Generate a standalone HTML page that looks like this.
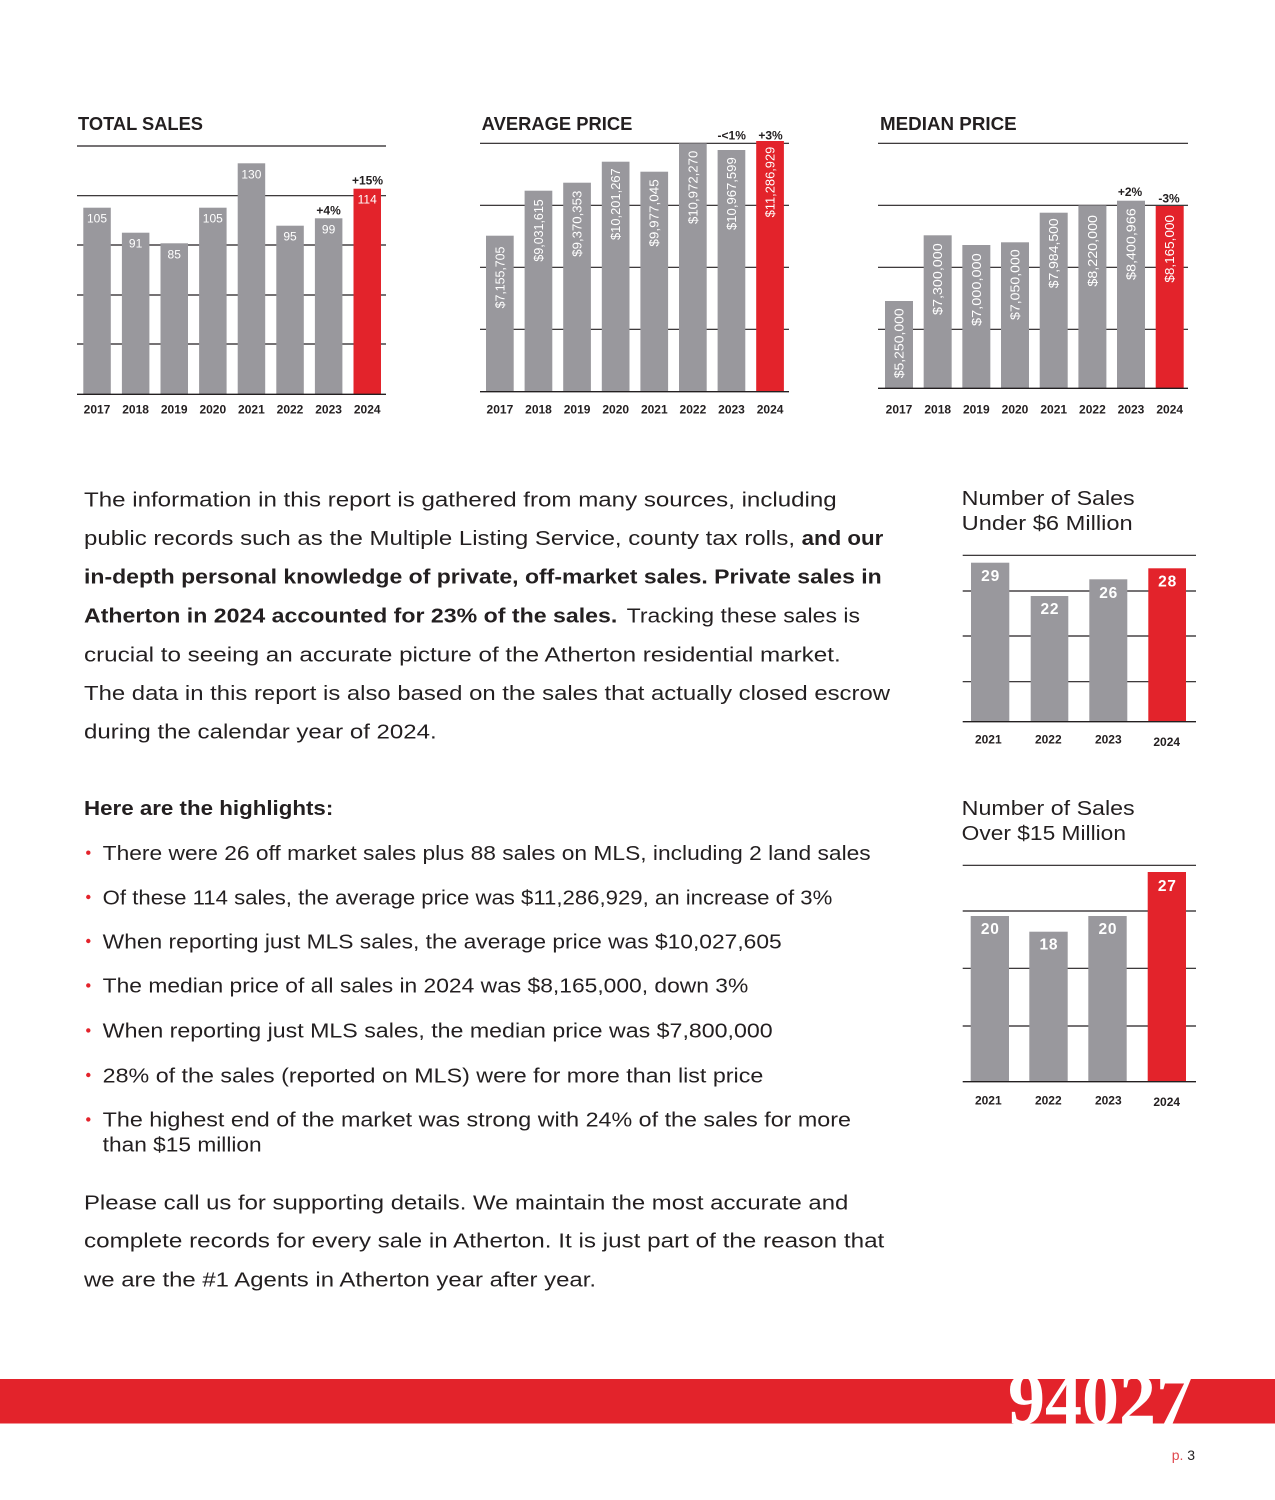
<!DOCTYPE html>
<html><head><meta charset="utf-8"><style>
html,body{margin:0;padding:0;background:#fff;}
svg{display:block;}
text{font-family:"Liberation Sans",sans-serif;}
text.serif{font-family:"Liberation Serif","DejaVu Serif",serif;}
</style></head><body>
<svg width="1275" height="1500" viewBox="0 0 1275 1500" xmlns="http://www.w3.org/2000/svg">
<rect width="1275" height="1500" fill="#fff"/>
<defs><clipPath id="band"><rect x="0" y="1379" width="1275" height="44.5"/></clipPath></defs>

<!-- ===== TOTAL SALES ===== -->
<text x="78" y="130" font-size="18" font-weight="bold" fill="#231f20" textLength="125" lengthAdjust="spacingAndGlyphs">TOTAL SALES</text>
<g stroke="#231f20" stroke-width="1.2">
<line x1="77" y1="146" x2="386" y2="146"/>
<line x1="77" y1="195.7" x2="386" y2="195.7"/>
<line x1="77" y1="245" x2="386" y2="245"/>
<line x1="77" y1="295" x2="386" y2="295"/>
<line x1="77" y1="344" x2="386" y2="344"/>
</g>
<g fill="#99989d">
<rect x="83.3" y="207.7" width="27.5" height="186.6"/>
<rect x="121.9" y="232.7" width="27.5" height="161.6"/>
<rect x="160.5" y="243.3" width="27.5" height="151"/>
<rect x="199.1" y="207.7" width="27.5" height="186.6"/>
<rect x="237.7" y="163.3" width="27.5" height="231"/>
<rect x="276.3" y="225.7" width="27.5" height="168.6"/>
<rect x="314.9" y="218.3" width="27.5" height="176"/>
</g>
<rect x="353.5" y="188.7" width="27.5" height="205.6" fill="#e3232b"/>
<line x1="77" y1="394.3" x2="386" y2="394.3" stroke="#231f20" stroke-width="1.3"/>
<g fill="#fff" font-size="12" text-anchor="middle">
<text x="97" y="222.7">105</text>
<text x="135.6" y="247.7">91</text>
<text x="174.2" y="258.3">85</text>
<text x="212.8" y="222.7">105</text>
<text x="251.4" y="178.3">130</text>
<text x="290" y="240.7">95</text>
<text x="328.6" y="233.3">99</text>
<text x="367.2" y="203.7">114</text>
</g>
<g fill="#231f20" font-size="12" font-weight="bold" text-anchor="middle">
<text x="367.5" y="184.5">+15%</text>
<text x="328.6" y="214.5">+4%</text>
</g>
<g fill="#231f20" font-size="12" font-weight="bold" text-anchor="middle">
<text x="97" y="413.5">2017</text>
<text x="135.6" y="413.5">2018</text>
<text x="174.2" y="413.5">2019</text>
<text x="212.8" y="413.5">2020</text>
<text x="251.4" y="413.5">2021</text>
<text x="290" y="413.5">2022</text>
<text x="328.6" y="413.5">2023</text>
<text x="367.2" y="413.5">2024</text>
</g>

<!-- ===== AVERAGE PRICE ===== -->
<text x="481.7" y="130" font-size="18" font-weight="bold" fill="#231f20" textLength="150.7" lengthAdjust="spacingAndGlyphs">AVERAGE PRICE</text>
<g stroke="#231f20" stroke-width="1.2">
<line x1="480" y1="143.3" x2="789" y2="143.3"/>
<line x1="480" y1="205.3" x2="789" y2="205.3"/>
<line x1="480" y1="267.3" x2="789" y2="267.3"/>
<line x1="480" y1="329.3" x2="789" y2="329.3"/>
</g>
<g fill="#99989d">
<rect x="486" y="235.7" width="27.7" height="156"/>
<rect x="524.6" y="190.7" width="27.7" height="201"/>
<rect x="563.2" y="182.7" width="27.7" height="209"/>
<rect x="601.8" y="161.7" width="27.7" height="230"/>
<rect x="640.4" y="171.7" width="27.7" height="220"/>
<rect x="679" y="143.3" width="27.7" height="248.4"/>
<rect x="717.6" y="150" width="27.7" height="241.7"/>
</g>
<rect x="756.2" y="141" width="27.7" height="250.7" fill="#e3232b"/>
<line x1="480" y1="391.7" x2="789" y2="391.7" stroke="#231f20" stroke-width="1.3"/>
<g fill="#fff" font-size="12.5" text-anchor="end">
<text transform="translate(504.3,246.7) rotate(-90)" textLength="61.7" lengthAdjust="spacingAndGlyphs">$7,155,705</text>
<text transform="translate(542.9,199.3) rotate(-90)" textLength="62.3" lengthAdjust="spacingAndGlyphs">$9,031,615</text>
<text transform="translate(581.5,190.7) rotate(-90)" textLength="66" lengthAdjust="spacingAndGlyphs">$9,370,353</text>
<text transform="translate(620.1,168.3) rotate(-90)" textLength="71.7" lengthAdjust="spacingAndGlyphs">$10,201,267</text>
<text transform="translate(658.7,179.3) rotate(-90)" textLength="67.3" lengthAdjust="spacingAndGlyphs">$9,977,045</text>
<text transform="translate(697.3,150.7) rotate(-90)" textLength="73.3" lengthAdjust="spacingAndGlyphs">$10,972,270</text>
<text transform="translate(735.9,157.3) rotate(-90)" textLength="72.7" lengthAdjust="spacingAndGlyphs">$10,967,599</text>
<text transform="translate(774.5,146.7) rotate(-90)" textLength="70.7" lengthAdjust="spacingAndGlyphs">$11,286,929</text>
</g>
<g fill="#231f20" font-size="12" font-weight="bold" text-anchor="middle">
<text x="731.7" y="139.5">-&lt;1%</text>
<text x="770.5" y="139.5">+3%</text>
</g>
<g fill="#231f20" font-size="12" font-weight="bold" text-anchor="middle">
<text x="499.9" y="413.5">2017</text>
<text x="538.5" y="413.5">2018</text>
<text x="577.1" y="413.5">2019</text>
<text x="615.7" y="413.5">2020</text>
<text x="654.3" y="413.5">2021</text>
<text x="692.9" y="413.5">2022</text>
<text x="731.5" y="413.5">2023</text>
<text x="770.1" y="413.5">2024</text>
</g>

<!-- ===== MEDIAN PRICE ===== -->
<text x="880" y="130" font-size="18" font-weight="bold" fill="#231f20" textLength="136.7" lengthAdjust="spacingAndGlyphs">MEDIAN PRICE</text>
<g stroke="#231f20" stroke-width="1.2">
<line x1="878" y1="143.3" x2="1188" y2="143.3"/>
<line x1="878" y1="205.3" x2="1188" y2="205.3"/>
<line x1="878" y1="267.3" x2="1188" y2="267.3"/>
<line x1="878" y1="329.3" x2="1188" y2="329.3"/>
</g>
<g fill="#99989d">
<rect x="885" y="301" width="28" height="87.3"/>
<rect x="923.67" y="235.3" width="28" height="153"/>
<rect x="962.34" y="245" width="28" height="143.3"/>
<rect x="1001" y="242.3" width="28" height="146"/>
<rect x="1039.7" y="212.7" width="28" height="175.6"/>
<rect x="1078.4" y="205.3" width="28" height="183"/>
<rect x="1117" y="200.7" width="28" height="187.6"/>
</g>
<rect x="1155.7" y="206" width="28" height="182.3" fill="#e3232b"/>
<line x1="878" y1="388.3" x2="1188" y2="388.3" stroke="#231f20" stroke-width="1.3"/>
<g fill="#fff" font-size="12.5" text-anchor="end">
<text transform="translate(903.5,308.3) rotate(-90)" textLength="70" lengthAdjust="spacingAndGlyphs">$5,250,000</text>
<text transform="translate(942.2,243.3) rotate(-90)" textLength="71.7" lengthAdjust="spacingAndGlyphs">$7,300,000</text>
<text transform="translate(980.8,253.3) rotate(-90)" textLength="72.7" lengthAdjust="spacingAndGlyphs">$7,000,000</text>
<text transform="translate(1019.5,249.3) rotate(-90)" textLength="70.7" lengthAdjust="spacingAndGlyphs">$7,050,000</text>
<text transform="translate(1058.2,218.3) rotate(-90)" textLength="70" lengthAdjust="spacingAndGlyphs">$7,984,500</text>
<text transform="translate(1096.9,215) rotate(-90)" textLength="71.7" lengthAdjust="spacingAndGlyphs">$8,220,000</text>
<text transform="translate(1135.5,208.3) rotate(-90)" textLength="71.7" lengthAdjust="spacingAndGlyphs">$8,400,966</text>
<text transform="translate(1174.2,215) rotate(-90)" textLength="67.7" lengthAdjust="spacingAndGlyphs">$8,165,000</text>
</g>
<g fill="#231f20" font-size="12" font-weight="bold" text-anchor="middle">
<text x="1130" y="196">+2%</text>
<text x="1169" y="202.7">-3%</text>
</g>
<g fill="#231f20" font-size="12" font-weight="bold" text-anchor="middle">
<text x="899" y="413.5">2017</text>
<text x="937.7" y="413.5">2018</text>
<text x="976.3" y="413.5">2019</text>
<text x="1015" y="413.5">2020</text>
<text x="1053.7" y="413.5">2021</text>
<text x="1092.4" y="413.5">2022</text>
<text x="1131" y="413.5">2023</text>
<text x="1169.7" y="413.5">2024</text>
</g>

<!-- ===== BODY PARAGRAPH ===== -->
<g fill="#231f20" font-size="20.5">
<text x="84" y="506.7" textLength="752.7" lengthAdjust="spacingAndGlyphs">The information in this report is gathered from many sources, including</text>
<text x="84" y="545" textLength="711" lengthAdjust="spacingAndGlyphs">public records such as the Multiple Listing Service, county tax rolls,</text>
<text x="801.7" y="545" font-weight="bold" textLength="81.6" lengthAdjust="spacingAndGlyphs">and our</text>
<text x="84" y="583.3" font-weight="bold" textLength="797.7" lengthAdjust="spacingAndGlyphs">in-depth personal knowledge of private, off-market sales. Private sales in</text>
<text x="84" y="622.7" font-weight="bold" textLength="533.3" lengthAdjust="spacingAndGlyphs">Atherton in 2024 accounted for 23% of the sales.</text>
<text x="626.7" y="622.7" textLength="233.3" lengthAdjust="spacingAndGlyphs">Tracking these sales is</text>
<text x="84" y="661.7" textLength="756.7" lengthAdjust="spacingAndGlyphs">crucial to seeing an accurate picture of the Atherton residential market.</text>
<text x="84" y="700" textLength="806" lengthAdjust="spacingAndGlyphs">The data in this report is also based on the sales that actually closed escrow</text>
<text x="84" y="738.3" textLength="352.7" lengthAdjust="spacingAndGlyphs">during the calendar year of 2024.</text>
</g>

<!-- ===== HIGHLIGHTS ===== -->
<g fill="#231f20" font-size="20.5">
<text x="84" y="815" font-weight="bold" textLength="249.3" lengthAdjust="spacingAndGlyphs">Here are the highlights:</text>
<text x="102.7" y="860" textLength="768" lengthAdjust="spacingAndGlyphs">There were 26 off market sales plus 88 sales on MLS, including 2 land sales</text>
<text x="102.7" y="904.3" textLength="729.6" lengthAdjust="spacingAndGlyphs">Of these 114 sales, the average price was $11,286,929, an increase of 3%</text>
<text x="102.7" y="948.3" textLength="679" lengthAdjust="spacingAndGlyphs">When reporting just MLS sales, the average price was $10,027,605</text>
<text x="102.7" y="992.7" textLength="645.6" lengthAdjust="spacingAndGlyphs">The median price of all sales in 2024 was $8,165,000, down 3%</text>
<text x="102.7" y="1037.7" textLength="670" lengthAdjust="spacingAndGlyphs">When reporting just MLS sales, the median price was $7,800,000</text>
<text x="102.7" y="1082.3" textLength="660.6" lengthAdjust="spacingAndGlyphs">28% of the sales (reported on MLS) were for more than list price</text>
<text x="102.7" y="1126.7" textLength="748.3" lengthAdjust="spacingAndGlyphs">The highest end of the market was strong with 24% of the sales for more</text>
<text x="102.7" y="1151.7" textLength="159" lengthAdjust="spacingAndGlyphs">than $15 million</text>
</g>
<g fill="#e3232b">
<circle cx="88.3" cy="852.7" r="2.2"/>
<circle cx="88.3" cy="897" r="2.2"/>
<circle cx="88.3" cy="941" r="2.2"/>
<circle cx="88.3" cy="985.4" r="2.2"/>
<circle cx="88.3" cy="1030.4" r="2.2"/>
<circle cx="88.3" cy="1075" r="2.2"/>
<circle cx="88.3" cy="1119.4" r="2.2"/>
</g>

<!-- ===== CLOSING PARAGRAPH ===== -->
<g fill="#231f20" font-size="20.5">
<text x="84" y="1209.3" textLength="764.3" lengthAdjust="spacingAndGlyphs">Please call us for supporting details. We maintain the most accurate and</text>
<text x="84" y="1247.7" textLength="800.3" lengthAdjust="spacingAndGlyphs">complete records for every sale in Atherton. It is just part of the reason that</text>
<text x="84" y="1286.7" textLength="512" lengthAdjust="spacingAndGlyphs">we are the #1 Agents in Atherton year after year.</text>
</g>

<!-- ===== UNDER $6M CHART ===== -->
<g fill="#231f20" font-size="20">
<text x="961.7" y="505" textLength="173" lengthAdjust="spacingAndGlyphs">Number of Sales</text>
<text x="961.7" y="530" textLength="171" lengthAdjust="spacingAndGlyphs">Under $6 Million</text>
</g>
<g stroke="#231f20" stroke-width="1.2">
<line x1="962.7" y1="555.3" x2="1196" y2="555.3"/>
<line x1="962.7" y1="591" x2="1196" y2="591"/>
<line x1="962.7" y1="636" x2="1196" y2="636"/>
<line x1="962.7" y1="681.7" x2="1196" y2="681.7"/>
</g>
<g fill="#99989d">
<rect x="971" y="562.7" width="38.3" height="159"/>
<rect x="1030.7" y="596" width="37.6" height="125.7"/>
<rect x="1089.3" y="579.3" width="38" height="142.4"/>
</g>
<rect x="1148.3" y="568.3" width="37.7" height="153.4" fill="#e3232b"/>
<line x1="962.7" y1="721.7" x2="1196" y2="721.7" stroke="#231f20" stroke-width="1.3"/>
<g fill="#fff" font-size="15.5" font-weight="bold" text-anchor="middle" letter-spacing="0.8">
<text x="990.6" y="581.2">29</text>
<text x="1049.9" y="613.8">22</text>
<text x="1108.7" y="598.2">26</text>
<text x="1167.6" y="586.5">28</text>
</g>
<g fill="#231f20" font-size="12" font-weight="bold" text-anchor="middle">
<text x="988.3" y="743.6">2021</text>
<text x="1048.3" y="743.6">2022</text>
<text x="1108.3" y="743.6">2023</text>
<text x="1166.7" y="746">2024</text>
</g>

<!-- ===== OVER $15M CHART ===== -->
<g fill="#231f20" font-size="20">
<text x="961.7" y="815" textLength="173" lengthAdjust="spacingAndGlyphs">Number of Sales</text>
<text x="961.7" y="840" textLength="164.3" lengthAdjust="spacingAndGlyphs">Over $15 Million</text>
</g>
<g stroke="#231f20" stroke-width="1.2">
<line x1="962.7" y1="865.3" x2="1196" y2="865.3"/>
<line x1="962.7" y1="911" x2="1196" y2="911"/>
<line x1="962.7" y1="968.3" x2="1196" y2="968.3"/>
<line x1="962.7" y1="1026" x2="1196" y2="1026"/>
</g>
<g fill="#99989d">
<rect x="970.7" y="916" width="38.3" height="165.7"/>
<rect x="1029.3" y="931.7" width="38.4" height="150"/>
<rect x="1088.3" y="916" width="38.4" height="165.7"/>
</g>
<rect x="1147.7" y="872" width="38.3" height="209.7" fill="#e3232b"/>
<line x1="962.7" y1="1081.7" x2="1196" y2="1081.7" stroke="#231f20" stroke-width="1.3"/>
<g fill="#fff" font-size="15.5" font-weight="bold" text-anchor="middle" letter-spacing="0.8">
<text x="990.3" y="933.8">20</text>
<text x="1048.9" y="949.5">18</text>
<text x="1107.9" y="933.8">20</text>
<text x="1167.3" y="891.2">27</text>
</g>
<g fill="#231f20" font-size="12" font-weight="bold" text-anchor="middle">
<text x="988.3" y="1104.3">2021</text>
<text x="1048.3" y="1104.3">2022</text>
<text x="1108.3" y="1104.3">2023</text>
<text x="1166.7" y="1106">2024</text>
</g>

<!-- ===== FOOTER ===== -->
<rect x="0" y="1379" width="1275" height="44.5" fill="#e3232b"/>
<g clip-path="url(#band)">
<text class="serif" x="1008" y="1424" font-size="74" font-weight="bold" fill="#fff" textLength="185" lengthAdjust="spacingAndGlyphs">94027</text>
</g>
<text x="1171.7" y="1460" font-size="14"><tspan fill="#e0484e">p.</tspan><tspan fill="#231f20"> 3</tspan></text>
</svg>
</body></html>
